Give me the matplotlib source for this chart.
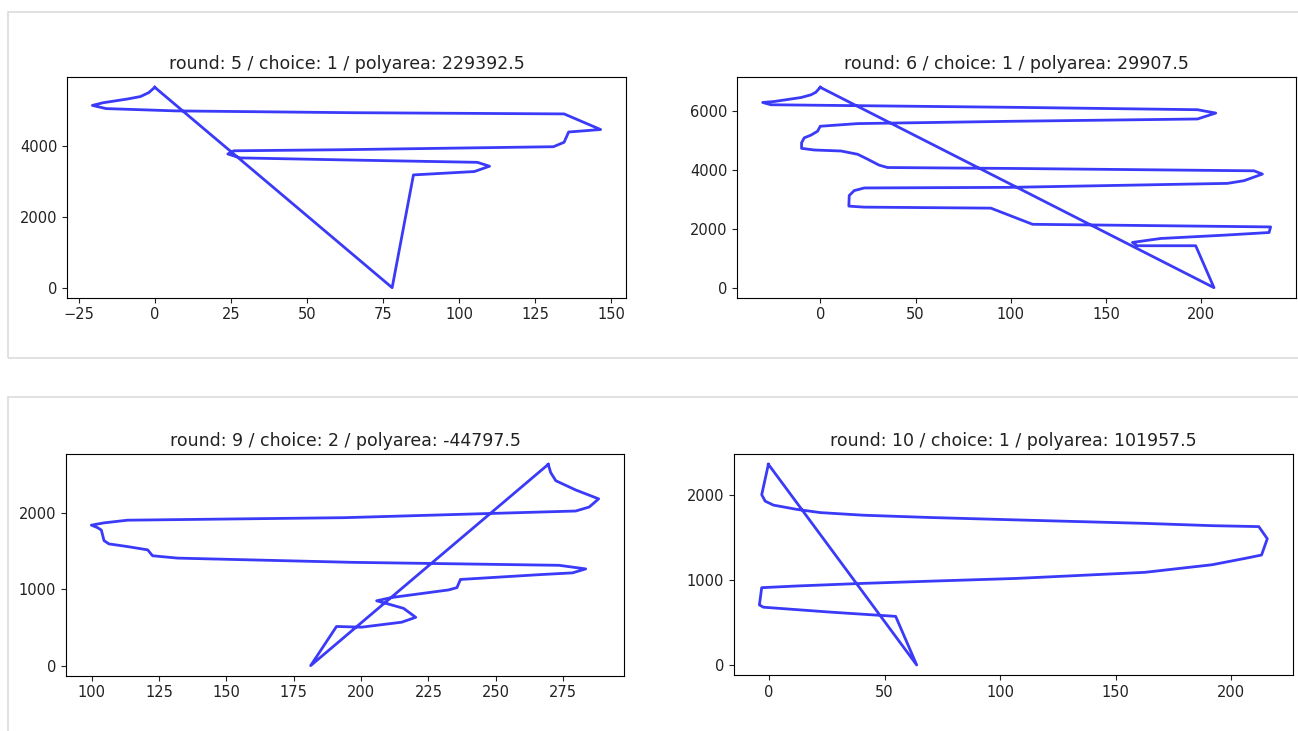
import numpy as np
import matplotlib
matplotlib.use("Agg")
import matplotlib.pyplot as plt
from matplotlib.patches import Rectangle

# ---- data -------------------------------------------------------------
titles = [
    "round: 5 / choice: 1 / polyarea: 229392.5",
    "round: 6 / choice: 1 / polyarea: 29907.5",
    "round: 9 / choice: 2 / polyarea: -44797.5",
    "round: 10 / choice: 1 / polyarea: 101957.5",
]

x1 = [0, -2, -4.7, -9, -17, -20.5, -16, 7, 64, 134.5, 146.5, 136, 134.5, 131,
      61, 26, 24, 28, 64, 106, 110, 105, 85, 78]
y1 = [5650, 5500, 5390, 5320, 5215, 5140, 5050, 4985, 4935, 4900, 4460, 4390,
      4100, 3975, 3890, 3860, 3770, 3660, 3600, 3535, 3425, 3275, 3180, 0]

x2 = [0, -2.3, -4.9, -10.1, -24.1, -30.2, -25.9, 105, 197.9, 207.5, 197.9,
      100, 19.6, 0, -1.4, -4.9, -8.4, -9.8, -9.8, -3.1, 10.9, 19.6, 24.9,
      30.9, 35.3, 105, 227.6, 232, 222.3, 213.6, 100, 23.1, 17.8, 15.2, 15,
      23, 89.5, 111.4, 236.3, 235.5, 211.8, 178.6, 163.8, 166.4, 197, 206.6]
y2 = [6793, 6626, 6538, 6447, 6313, 6279, 6202, 6112, 6034, 5920, 5719,
      5641, 5563, 5473, 5305, 5171, 5081, 4913, 4724, 4668, 4634, 4523, 4355,
      4154, 4074, 4040, 3962, 3851, 3627, 3536, 3402, 3381, 3291, 3123, 2765,
      2731, 2697, 2149, 2060, 1870, 1780, 1668, 1534, 1422, 1422, 0]

x3 = [269.5, 270.4, 272.3, 279.7, 288.2, 284.7, 279.7, 194, 113.3, 104.6,
      99.9, 102.1, 103.6, 104.6, 106.4, 113.3, 120.8, 122.6, 131.9, 196.5,
      273.5, 283.4, 278.5, 267.3, 236.9, 235.6, 232.5, 211.4, 205.8, 210.2,
      215.8, 220.3, 215.1, 200.2, 190.9, 181.3]
y3 = [2632, 2525, 2418, 2297, 2181, 2074, 2022, 1935, 1902, 1867, 1837,
      1806, 1773, 1635, 1592, 1557, 1514, 1437, 1406, 1351, 1312, 1265, 1213,
      1192, 1127, 1020, 990, 891, 848, 805, 749, 632, 568, 503, 512, 0]

x4 = [-0.3, -3.2, -1.7, 1.9, 12, 22.2, 41, 70, 107, 162.7, 191.7, 212,
      215.7, 213.2, 206.2, 191.7, 162.7, 107, 70, 41, 12, -3.2, -4.2, -2.5,
      26.5, 54.8, 63.9]
y4 = [2365, 2007, 1931, 1884, 1834, 1796, 1765, 1738, 1710, 1669, 1642,
      1631, 1488, 1296, 1257, 1181, 1092, 1020, 988, 962, 931, 911, 708, 681,
      623, 573, 0]

yticks1 = [0, 2000, 4000]
yticks2 = [0, 2000, 4000, 6000]
yticks3 = [0, 1000, 2000]
yticks4 = [0, 1000, 2000]

series = [(x1, y1), (x2, y2), (x3, y3), (x4, y4)]
yticks_all = [yticks1, yticks2, yticks3, yticks4]

# ---- layout (pixels) ---------------------------------------------------
W, H = 1298, 731
fig = plt.figure(figsize=(W / 100, H / 100), dpi=100)

# notebook-style output boxes
for (bx, by, bw, bh) in [(8, 12, 1320, 346), (8, 397, 1320, 360)]:
    fig.add_artist(Rectangle((bx / W, 1 - (by + bh) / H), bw / W, bh / H,
                             transform=fig.transFigure, fill=False,
                             edgecolor="#dcdcdc", linewidth=1.2))

boxes = [(67, 77.3, 626, 297.7), (737.3, 77.3, 1296, 297.7),
         (66, 454.3, 624, 675.7), (734, 454.3, 1292.7, 675)]

for (l, t, r, b), (xs, ys), yt, ttl in zip(boxes, series, yticks_all, titles):
    ax = fig.add_axes([l / W, 1 - b / H, (r - l) / W, (b - t) / H])
    xs = np.append(xs, xs[0])
    ys = np.append(ys, ys[0])
    ax.plot(xs, ys, color="#3a3af8", linewidth=2)
    ax.set_yticks(yt)
    ax.tick_params(labelsize=10.5, colors="#222222")
    ax.set_title(ttl, fontsize=12.5, color="#222222")

fig.savefig("out.png", dpi=100)
